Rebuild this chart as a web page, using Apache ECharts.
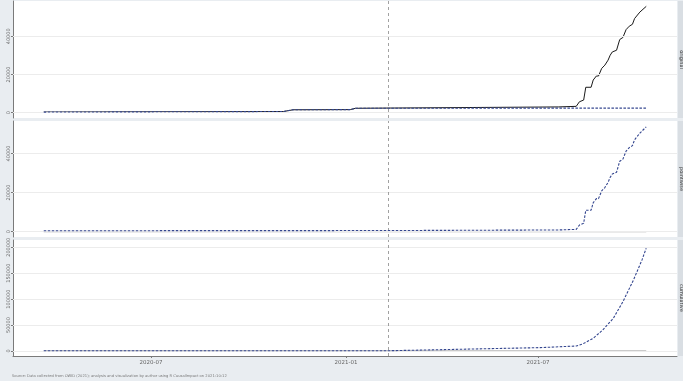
<!DOCTYPE html>
<html>
<head>
<meta charset="utf-8">
<script src="https://cdn.jsdelivr.net/npm/echarts@6/dist/echarts.min.js"></script>
<style>html,body{margin:0;padding:0;background:#e9edf1;}#c{width:683px;height:381px;}</style>
</head>
<body>
<div id="c"></div>
<script>
// ---- data ----
const obsDates = ['2020-03-22','2020-11-03','2020-11-12','2021-01-05','2021-01-10','2021-07-20','2021-08-06','2021-08-09','2021-08-13','2021-08-15','2021-08-20','2021-08-22','2021-08-25','2021-08-27','2021-08-30','2021-09-02','2021-09-05','2021-09-07','2021-09-09','2021-09-13','2021-09-16','2021-09-19','2021-09-22','2021-09-25','2021-09-28','2021-09-30','2021-10-05','2021-10-11'];
const observed = [300,600,1500,1600,2300,3000,3300,5700,6600,13300,13300,17100,19200,19200,23200,24900,27500,30100,31800,32700,38300,39400,43500,45300,46300,49300,52700,55700];

const predDates = ['2020-03-22','2020-11-03','2020-11-12','2021-01-05','2021-01-10','2021-02-10','2021-07-20','2021-10-11'];
const predicted = [300,600,1500,1600,2300,2300,2400,2400];
const predLower = [0,300,1200,1300,2000,1500,1000,900];
const predUpper = [600,900,1800,1900,2600,3100,3800,3900];

const pointDates = ['2020-03-22','2021-02-10','2021-07-20','2021-08-06','2021-08-09','2021-08-13','2021-08-15','2021-08-20','2021-08-22','2021-08-25','2021-08-27','2021-08-30','2021-09-02','2021-09-05','2021-09-07','2021-09-09','2021-09-13','2021-09-16','2021-09-19','2021-09-22','2021-09-25','2021-09-28','2021-09-30','2021-10-05','2021-10-11'];
const pointwise = [500,600,900,1200,3400,4300,11000,11000,14800,16900,16900,20900,22600,25200,27800,29500,30400,36000,37100,41200,43000,44000,47000,50400,53600];
const pointLower = [200,-200,-500,-200,2000,2900,9600,9600,13400,15500,15500,19500,21200,23800,26400,28100,29000,34600,35700,39800,41600,42600,45600,49000,52200];
const pointUpper = [800,1400,2300,2600,4800,5700,12400,12400,16200,18300,18300,22300,24000,26600,29200,30900,31800,37400,38500,42600,44400,45400,48400,51800,55000];

const cumDates = ['2020-03-22','2021-02-10','2021-03-30','2021-07-03','2021-08-06','2021-08-12','2021-08-22','2021-08-31','2021-09-10','2021-09-19','2021-09-29','2021-10-07','2021-10-11'];
const cumulative = [500,500,2500,6500,9600,13500,24500,40500,63100,95100,137000,175600,198200];
const cumLower = [0,0,800,3000,5500,9000,19000,34500,56500,88000,129000,167000,189000];
const cumUpper = [1000,1000,4200,10000,13700,18000,30000,46500,69700,102200,145000,184200,207400];

const interventionDate = '2021-02-10';
const xTickDates = ['2020-07-01','2021-01-01','2021-07-01'];
const yTicks1 = [0,20000,40000];
const yTicks2 = [0,20000,40000];
const yTicks3 = [0,50000,100000,150000,200000];
const panelLabels = ['original','pointwise','cumulative'];
const footnote = 'Source: Data collected from OWID (2021); analysis and visualization by author using R CausalImpact on 2021-10-12';

// ---- helpers ----
const ts = d => +new Date(d + 'T00:00:00');
const pairs = (ds, vs) => ds.map((d, i) => [ts(d), vs[i]]);
const diffs = (ds, lo, hi) => ds.map((d, i) => [ts(d), hi[i] - lo[i]]);
const xMin = ts('2020-02-22'), xMax = ts('2021-11-09');
const fmtMonth = v => { const d = new Date(v); return d.getFullYear() + '-' + String(d.getMonth() + 1).padStart(2, '0'); };

const grids = [
  {left: 13, right: 6, top: 1, height: 117},
  {left: 13, right: 6, top: 121, height: 116},
  {left: 13, right: 6, top: 240, height: 116}
].map(g => Object.assign(g, {show: true, backgroundColor: '#ffffff', borderWidth: 0, containLabel: false}));

const yRanges = [[-2800, 58500], [-2700, 56600], [-9650, 214000]];
const yTicks = [yTicks1, yTicks2, yTicks3];

const xAxes = [0,1,2].map(i => ({
  type: 'value', gridIndex: i, min: xMin, max: xMax, scale: true,
  axisLine: {show: i === 2, onZero: false, lineStyle: {color: '#7a7a7a', width: 1}},
  axisTick: {show: i === 2, customValues: xTickDates.map(ts), length: 2, lineStyle: {color: '#7a7a7a'}},
  axisLabel: {show: i === 2, customValues: xTickDates.map(ts), formatter: fmtMonth, fontSize: 5.5, color: '#666', margin: 4, fontFamily: 'DejaVu Sans'},
  splitLine: {show: false}
}));

const yAxes = [0,1,2].map(i => ({
  type: 'value', gridIndex: i, min: yRanges[i][0], max: yRanges[i][1],
  axisLine: {show: true, onZero: false, lineStyle: {color: '#7a7a7a', width: 1}},
  axisTick: {show: true, customValues: yTicks[i], length: 2, lineStyle: {color: '#7a7a7a'}},
  axisLabel: {customValues: yTicks[i], rotate: 90, fontSize: 5, color: '#666', margin: 2, fontFamily: 'DejaVu Sans', formatter: v => String(v)},
  splitLine: {show: false}
}));

function gridMarks(i) {
  return {
    silent: true, symbol: 'none', animation: false,
    label: {show: false},
    data: yTicks[i].map(v => ({yAxis: v, lineStyle: {color: '#ececec', width: 1, type: 'solid'}}))
      .concat([{xAxis: ts(interventionDate), lineStyle: {color: '#8a8a8a', width: 0.8, type: [3, 3]}}])
  };
}

function ribbon(i, ds, lo, hi, name) {
  return [
    {type: 'line', name: name + 'lo', xAxisIndex: i, yAxisIndex: i, stack: name, data: pairs(ds, lo),
     symbol: 'none', lineStyle: {opacity: 0}, silent: true, animation: false, markLine: gridMarks(i), z: 1},
    {type: 'line', name: name + 'band', xAxisIndex: i, yAxisIndex: i, stack: name, data: diffs(ds, lo, hi),
     symbol: 'none', lineStyle: {opacity: 0}, areaStyle: {color: 'rgba(100,135,225,0.55)'}, silent: true, animation: false, z: 2}
  ];
}
function dashed(i, ds, vs) {
  return {type: 'line', xAxisIndex: i, yAxisIndex: i, data: pairs(ds, vs), symbol: 'none',
    lineStyle: {color: '#34468f', width: 1.1, type: [2.5, 1.5]}, animation: false, z: 5};
}
function zeroLine(i) {
  return {type: 'line', xAxisIndex: i, yAxisIndex: i, data: [[ts(obsDates[0]), 0], [ts(obsDates[obsDates.length - 1]), 0]],
    symbol: 'none', lineStyle: {color: '#9a9a9a', width: 1}, animation: false, z: 3};
}

const series = [].concat(
  ribbon(0, predDates, predLower, predUpper, 'p'),
  [{type: 'line', xAxisIndex: 0, yAxisIndex: 0, data: pairs(obsDates, observed), symbol: 'none',
    lineStyle: {color: '#1a1a1a', width: 1}, animation: false, z: 4}],
  [dashed(0, predDates, predicted)],
  ribbon(1, pointDates, pointLower, pointUpper, 'w'),
  [zeroLine(1), dashed(1, pointDates, pointwise)],
  ribbon(2, cumDates, cumLower, cumUpper, 'c'),
  [zeroLine(2), dashed(2, cumDates, cumulative)]
);

const stripCenters = [1 + 117 / 2, 121 + 116 / 2, 240 + 116 / 2];
const graphic = [
  {type: 'rect', shape: {x: 678, y: 1, width: 10, height: 117}, style: {fill: '#d9dee3'}},
  {type: 'rect', shape: {x: 678, y: 121, width: 10, height: 116}, style: {fill: '#d9dee3'}},
  {type: 'rect', shape: {x: 678, y: 240, width: 10, height: 116}, style: {fill: '#d9dee3'}}
].concat(panelLabels.map((t, i) => ({
  type: 'text', x: 681, y: stripCenters[i], rotation: -Math.PI / 2,
  style: {text: t, fontSize: 5, fill: '#333', align: 'center', verticalAlign: 'middle', fontFamily: 'DejaVu Sans'}
}))).concat([
  {type: 'text', left: 12, top: 374, style: {text: footnote, fontSize: 3.7, fill: '#777', fontFamily: 'DejaVu Sans'}}
]);

const chart = echarts.init(document.getElementById('c'), null, {renderer: 'canvas'});
chart.setOption({
  backgroundColor: '#e9edf1',
  animation: false,
  grid: grids,
  xAxis: xAxes,
  yAxis: yAxes,
  series: series,
  graphic: graphic
});
</script>
</body>
</html>
